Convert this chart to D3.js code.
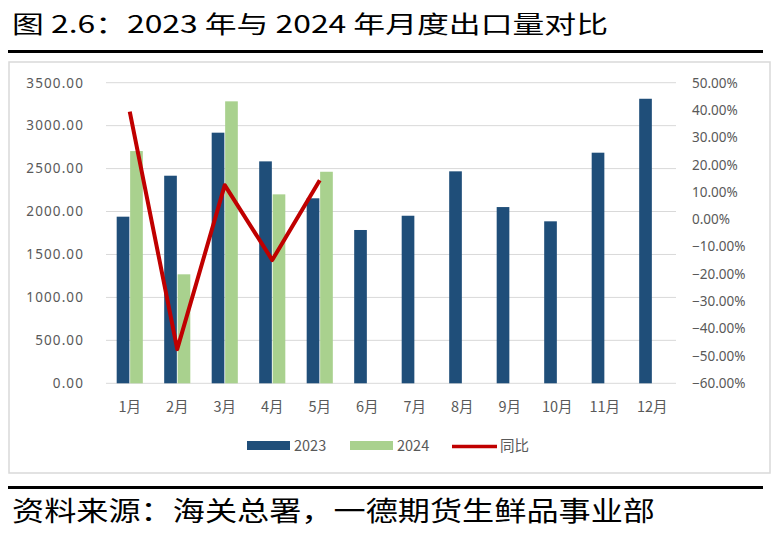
<!DOCTYPE html>
<html>
<head>
<meta charset="utf-8">
<script src="https://cdn.jsdelivr.net/npm/d3@7"></script>
<style>
  html, body { margin: 0; padding: 0; background: #fff; }
  svg { display: block; }
</style>
</head>
<body>
<svg id="chart" width="783" height="540"></svg>
<script>
const months = ["1月","2月","3月","4月","5月","6月","7月","8月","9月","10月","11月","12月"];
const series2023 = [1940, 2417, 2918, 2584, 2154, 1785, 1951, 2468, 2052, 1886, 2685, 3313];
const series2024 = [2704, 1269, 3283, 2200, 2463];
const yoy = [0.394, -0.475, 0.125, -0.149, 0.143];
const leftTicks = [0, 500, 1000, 1500, 2000, 2500, 3000, 3500];
const rightTicks = [0.5, 0.4, 0.3, 0.2, 0.1, 0, -0.1, -0.2, -0.3, -0.4, -0.5, -0.6];
const seriesNames = ["2023", "2024"];
const titleText = "图 2.6：2023 年与 2024 年月度出口量对比";
const sourceText = "资料来源：海关总署，一德期货生鲜品事业部";

const colors = { "2023": "#1f4e79", "2024": "#a9d18e", line: "#c00000" };
const svg = d3.select("#chart");

// Title and rules
svg.append("text").attr("x", 12).attr("y", 33)
  .attr("font-family", "'Noto Sans CJK SC', sans-serif").attr("font-size", 24)
  .attr("fill", "#000").attr("textLength", 596).attr("lengthAdjust", "spacingAndGlyphs")
  .text(titleText);
svg.append("rect").attr("x", 8).attr("y", 50).attr("width", 755).attr("height", 3).attr("fill", "#000");

// chart box
svg.append("rect").attr("x", 9).attr("y", 62).attr("width", 761).attr("height", 411)
  .attr("fill", "#fff").attr("stroke", "#d9d9d9").attr("stroke-width", 1.5);

svg.append("rect").attr("x", 8).attr("y", 486).attr("width", 755).attr("height", 3).attr("fill", "#000");
svg.append("text").attr("x", 12).attr("y", 521)
  .attr("font-family", "'Noto Sans CJK SC', sans-serif").attr("font-size", 27)
  .attr("fill", "#000").attr("textLength", 643).attr("lengthAdjust", "spacingAndGlyphs")
  .text(sourceText);

// scales
const plotL = 106, plotR = 676, plotT = 82.7, plotB = 383.3;
const x0 = d3.scaleBand().domain(months).range([plotL, plotR]).paddingInner(0.45).paddingOuter(0.225);
const x1 = d3.scaleBand().domain(seriesNames).range([0, x0.bandwidth()]).paddingInner(0.06);
const yL = d3.scaleLinear().domain([0, 3500]).range([plotB, plotT]);
const yR = d3.scaleLinear().domain([-0.6, 0.5]).range([plotB, plotT]);

// gridlines
const grid = svg.append("g");
grid.selectAll("line").data(leftTicks).join("line")
  .attr("x1", plotL).attr("x2", plotR)
  .attr("y1", d => yL(d)).attr("y2", d => yL(d))
  .attr("stroke", "#d9d9d9").attr("stroke-width", 1);

// left axis
const axL = d3.axisLeft(yL).tickValues(leftTicks).tickFormat(d3.format(".2f")).tickSize(0).tickPadding(0);
const gL = svg.append("g").attr("transform", "translate(84,0)").call(axL);
gL.select(".domain").remove();
gL.selectAll("text").attr("font-family", "'Noto Sans', sans-serif").attr("font-size", 13.5)
  .attr("fill", "#595959").attr("letter-spacing", "1.1px");

// right axis
const axR = d3.axisRight(yR).tickValues(rightTicks).tickFormat(d3.format(".2%")).tickSize(0).tickPadding(0);
const gR = svg.append("g").attr("transform", "translate(692,0)").call(axR);
gR.select(".domain").remove();
gR.selectAll("text").attr("font-family", "'Noto Sans', sans-serif").attr("font-size", 13.5)
  .attr("fill", "#595959");

// x axis labels
const axX = d3.axisBottom(x0).tickSize(0).tickPadding(0);
const gX = svg.append("g").attr("transform", `translate(0,${plotB + 14})`).call(axX);
gX.select(".domain").remove();
gX.selectAll("text").attr("font-family", "'Noto Sans CJK SC', sans-serif").attr("font-size", 14.5)
  .attr("fill", "#595959").attr("dy", "0.35em").attr("y", 10);

// bars
const barData = [];
months.forEach((m, i) => {
  if (series2023[i] != null) barData.push({ m, s: "2023", v: series2023[i] });
  if (series2024[i] != null) barData.push({ m, s: "2024", v: series2024[i] });
});
svg.append("g").selectAll("rect").data(barData).join("rect")
  .attr("x", d => x0(d.m) + x1(d.s))
  .attr("width", x1.bandwidth())
  .attr("y", d => yL(d.v))
  .attr("height", d => yL(0) - yL(d.v))
  .attr("fill", d => colors[d.s]);

// line
const line = d3.line().x((d, i) => x0(months[i]) + x0.bandwidth() / 2).y(d => yR(d));
svg.append("path").datum(yoy).attr("d", line)
  .attr("fill", "none").attr("stroke", colors.line).attr("stroke-width", 4)
  .attr("stroke-linejoin", "round");

// legend
const lg = svg.append("g").attr("font-family", "'Noto Sans CJK SC', sans-serif").attr("font-size", 14.5).attr("fill", "#595959");
lg.append("rect").attr("x", 247).attr("y", 441).attr("width", 43).attr("height", 9).attr("fill", colors["2023"]);
lg.append("text").attr("x", 294).attr("y", 446).attr("dy", "0.35em").text("2023");
lg.append("rect").attr("x", 350).attr("y", 441).attr("width", 43).attr("height", 9).attr("fill", colors["2024"]);
lg.append("text").attr("x", 397).attr("y", 446).attr("dy", "0.35em").text("2024");
lg.append("line").attr("x1", 452).attr("x2", 497).attr("y1", 446.5).attr("y2", 446.5)
  .attr("stroke", colors.line).attr("stroke-width", 3.5);
lg.append("text").attr("x", 500).attr("y", 446).attr("dy", "0.35em").text("同比");
</script>
</body>
</html>
